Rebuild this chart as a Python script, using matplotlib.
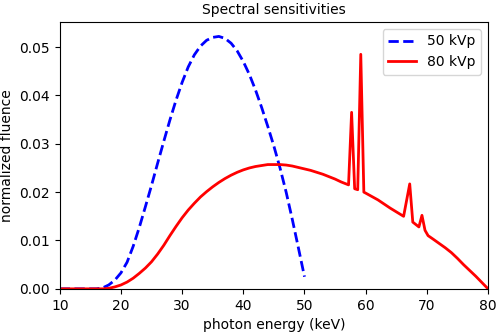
import matplotlib
matplotlib.use("Agg")
import matplotlib.pyplot as plt

# 50 kVp spectrum (keV, normalized fluence)
e50 = [10, 11, 12, 13, 14, 15, 16, 17, 18, 19, 20, 21, 22, 23, 24, 25, 26, 27, 28, 29,
       30, 31, 32, 33, 34, 35, 36, 37, 38, 39, 40, 41, 42, 43, 44, 45, 46, 47, 48, 49, 50]
f50 = [0, 0, 0, 0, 0, 0, 0, 0.0002, 0.0008, 0.0018, 0.0033, 0.0055, 0.0088, 0.0127,
       0.0170, 0.0214, 0.0260, 0.0305, 0.0349, 0.0390, 0.0427, 0.0459, 0.0484, 0.0502,
       0.0514, 0.0520, 0.0522, 0.0518, 0.0508, 0.0492, 0.0470, 0.0443, 0.0411, 0.0375,
       0.0336, 0.0295, 0.0250, 0.0200, 0.0144, 0.0085, 0.0025]

# 80 kVp spectrum with tungsten characteristic lines
e80 = [10, 11, 12, 13, 14, 15, 16, 17, 18, 19, 20, 21, 22, 23, 24, 25, 26, 27, 28, 29,
       30, 31, 32, 33, 34, 35, 36, 37, 38, 39, 40, 41, 42, 43, 44, 45, 46, 47, 48, 49,
       50, 51, 52, 53, 54, 55, 56, 57.2, 57.7, 58.2, 58.7, 59.2, 59.7, 60, 62, 64,
       66.2, 67.2, 67.7, 68.7, 69.2, 69.7, 70.2, 71, 72, 73, 74, 75, 76, 77, 78, 79, 80]
f80 = [0, 0, 0, 0, 0, 0, 0, 0, 0.0001, 0.0004, 0.0008, 0.0014, 0.0022, 0.0032, 0.0043,
       0.0056, 0.0072, 0.0090, 0.0110, 0.0129, 0.0147, 0.0163, 0.0177, 0.0190, 0.0201,
       0.0211, 0.0220, 0.0228, 0.0235, 0.0241, 0.0246, 0.0250, 0.0253, 0.0255, 0.0257,
       0.0257, 0.0257, 0.0256, 0.0254, 0.0251, 0.0248, 0.0245, 0.0241, 0.0237, 0.0232,
       0.0227, 0.0221, 0.0215, 0.0365, 0.0207, 0.0205, 0.0485, 0.0200, 0.0198, 0.0184,
       0.0167, 0.0150, 0.0217, 0.0138, 0.0128, 0.0152, 0.0121, 0.0110, 0.0103, 0.0094,
       0.0085, 0.0075, 0.0063, 0.0050, 0.0038, 0.0026, 0.0013, 0.0]

fig = plt.figure(figsize=(4.98, 3.32), dpi=100)
ax = fig.add_axes([0.12, 0.13, 0.86, 0.804])

ax.plot(e50, f50, color='blue', linestyle='--', linewidth=2, label='50 kVp')
ax.plot(e80, f80, color='red', linewidth=2, label='80 kVp')

ax.set_xlim(10, 80)
ax.set_ylim(0, 0.0552)
ax.set_xlabel('photon energy (keV)')
ax.set_ylabel('normalized fluence')
ax.set_title('Spectral sensitivities', fontsize=10)
ax.legend(loc='upper right')

fig.savefig('out.png', dpi=100)
